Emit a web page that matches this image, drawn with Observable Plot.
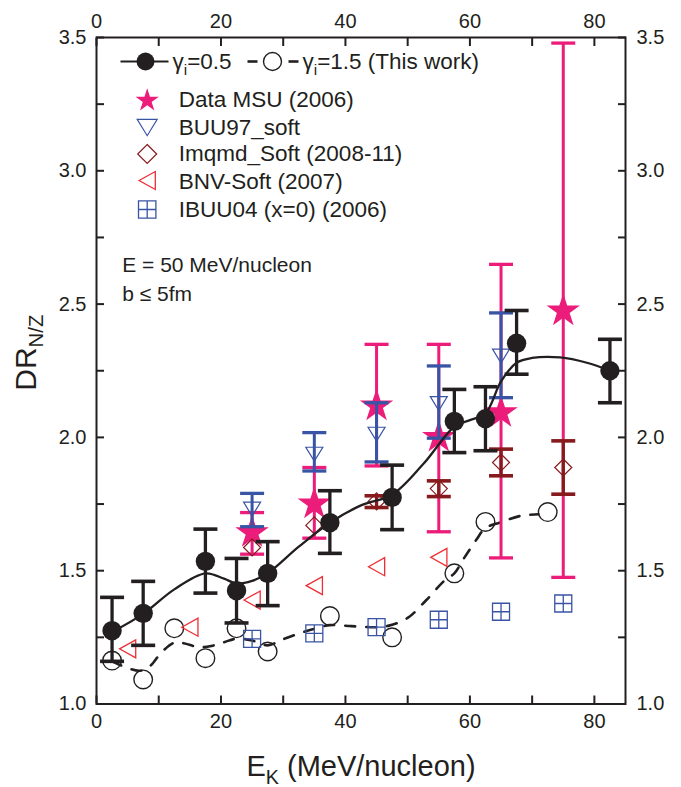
<!DOCTYPE html>
<html><head><meta charset="utf-8">
<script src="https://cdn.jsdelivr.net/npm/d3@7"></script>
<script src="https://cdn.jsdelivr.net/npm/@observablehq/plot@0.6"></script>
<style>html,body{margin:0;padding:0;background:#fff;}#chart{width:681px;height:787px;}</style>
</head><body><div id="chart"></div>
<script>
// ---------- data ----------
// This work, gamma_i = 0.5 (filled circles with error bars)
const ek_g05 = [2.5, 7.5, 17.5, 22.5, 27.5, 37.5, 47.5, 57.5, 62.5, 67.5, 82.5];
const dr_g05 = [1.275, 1.34, 1.535, 1.425, 1.49, 1.68, 1.775, 2.06, 2.07, 2.353, 2.25];
const dr_g05_hi = [1.40, 1.46, 1.656, 1.546, 1.609, 1.80, 1.896, 2.18, 2.19, 2.476, 2.368];
const dr_g05_lo = [1.16, 1.22, 1.416, 1.304, 1.369, 1.565, 1.654, 1.943, 1.95, 2.237, 2.13];
// smooth curve drawn through gamma_i = 0.5
const curve05_x = [2.5, 7.5, 12.5, 17.5, 20.5, 22.5, 25, 27.5, 32.5, 37.5, 42.5, 47.5, 52.5, 57.5, 60, 62.5, 65, 67.5, 70, 74.5, 78.8, 82.5];
const curve05_y = [1.27, 1.338, 1.43, 1.49, 1.47, 1.452, 1.462, 1.49, 1.59, 1.68, 1.745, 1.785, 1.9, 2.04, 2.065, 2.09, 2.21, 2.28, 2.298, 2.30, 2.28, 2.25];
// This work, gamma_i = 1.5 (open circles)
const ek_g15 = [2.5, 7.5, 12.5, 17.5, 22.5, 27.5, 37.5, 47.5, 57.5, 62.5, 72.5];
const dr_g15 = [1.163, 1.092, 1.284, 1.172, 1.284, 1.197, 1.33, 1.25, 1.49, 1.683, 1.72];
// dashed curve for gamma_i = 1.5
const curve15_x = [2.5, 5, 7, 8.5, 10.5, 12.5, 14, 16.5, 18.5, 20.5, 22.5, 25, 27.5, 30, 33, 35, 37.5, 41, 45, 47, 50, 53, 56, 57.5, 59, 61, 62.5, 65, 68, 71];
const curve15_y = [1.16, 1.135, 1.125, 1.14, 1.195, 1.23, 1.228, 1.213, 1.218, 1.232, 1.245, 1.238, 1.22, 1.243, 1.268, 1.282, 1.296, 1.292, 1.288, 1.294, 1.323, 1.39, 1.465, 1.49, 1.545, 1.615, 1.66, 1.682, 1.705, 1.712];
// Data MSU (2006)
const ek_msu = [25, 35, 45, 55, 65, 75];
const dr_msu = [1.643, 1.75, 2.118, 2.0, 2.093, 2.474];
const dr_msu_hi = [1.718, 1.887, 2.349, 2.349, 2.649, 3.479];
const dr_msu_lo = [1.562, 1.622, 1.893, 1.646, 1.548, 1.475];
// BUU97_soft
const ek_buu = [25, 35, 45, 55, 65];
const dr_buu = [1.731, 1.937, 2.012, 2.127, 2.305];
const dr_buu_hi = [1.79, 2.018, 2.13, 2.268, 2.467];
const dr_buu_lo = [1.665, 1.874, 1.908, 1.997, 2.149];
// Imqmd_Soft (2008-11)
const ek_imq = [25, 35, 45, 55, 65, 75];
const dr_imq = [1.587, 1.67, 1.76, 1.808, 1.906, 1.887];
const ek_imq_err = [45, 55, 65, 75];
const dr_imq_hi = [1.781, 1.837, 1.956, 1.987];
const dr_imq_lo = [1.737, 1.778, 1.856, 1.787];
// BNV-Soft (2007)
const ek_bnv = [5, 15, 25, 35, 45, 55];
const dr_bnv = [1.207, 1.288, 1.39, 1.444, 1.515, 1.55];
// IBUU04 (x=0) (2006)
const ek_ibuu = [25, 35, 45, 55, 65, 75];
const dr_ibuu = [1.244, 1.265, 1.288, 1.316, 1.346, 1.377];
// axes
const xTicks = [0, 10, 20, 30, 40, 50, 60, 70, 80];
const xTickLabels = ["0", "", "20", "", "40", "", "60", "", "80"];
const yTicks = [1.0, 1.25, 1.5, 1.75, 2.0, 2.25, 2.5, 2.75, 3.0, 3.25, 3.5];
const yTickLabels = ["1.0", "", "1.5", "", "2.0", "", "2.5", "", "3.0", "", "3.5"];
// texts
const legendNames = ["γ_{i}=0.5", "γ_{i}=1.5 (This work)", "Data MSU (2006)", "BUU97_soft", "Imqmd_Soft (2008-11)", "BNV-Soft (2007)", "IBUU04 (x=0) (2006)"];
const noteLines = ["E = 50 MeV/nucleon", "b ≤ 5fm"];
const xLabel = "E_{K} (MeV/nucleon)";
const yLabel = "DR_{N/Z}";

// ---------- tables ----------
const zip = (xs, ys, los, his) => xs.map((x, i) => ({x, y: ys ? ys[i] : null, lo: los ? los[i] : null, hi: his ? his[i] : null}));
const g05 = zip(ek_g05, dr_g05, dr_g05_lo, dr_g05_hi);
const g15 = zip(ek_g15, dr_g15);
const c05 = zip(curve05_x, curve05_y);
const c15 = zip(curve15_x, curve15_y);
const msu = zip(ek_msu, dr_msu, dr_msu_lo, dr_msu_hi);
const buu = zip(ek_buu, dr_buu, dr_buu_lo, dr_buu_hi);
const imq = zip(ek_imq, dr_imq);
const imqErr = zip(ek_imq_err, null, dr_imq_lo, dr_imq_hi);
const bnv = zip(ek_bnv, dr_bnv);
const ibuu = zip(ek_ibuu, dr_ibuu);

// ---------- colours & symbols ----------
const BLACK = "#231F20", MAG = "#EC1C7A", BLUE = "#3A54A5", DRED = "#861A1C", RED = "#EE2E34";
const sym = (fn) => ({draw(ctx, size) { const r = Math.sqrt(size / Math.PI); fn(ctx, r); }});
const downTri = sym((c, r) => { c.moveTo(-r, -0.82 * r); c.lineTo(r, -0.82 * r); c.lineTo(0, 0.82 * r); c.closePath(); });
const leftTri = sym((c, r) => { c.moveTo(-0.9 * r, 0); c.lineTo(0.9 * r, -r); c.lineTo(0.9 * r, r); c.closePath(); });
const diamond = sym((c, r) => { c.moveTo(0, -r); c.lineTo(r, 0); c.lineTo(0, r); c.lineTo(-r, 0); c.closePath(); });
const boxCross = sym((c, r) => { c.moveTo(-r, -r); c.lineTo(r, -r); c.lineTo(r, r); c.lineTo(-r, r); c.closePath(); c.moveTo(-r, 0); c.lineTo(r, 0); c.moveTo(0, -r); c.lineTo(0, r); });
const hline = sym((c, r) => { c.moveTo(-r, 0); c.lineTo(r, 0); });

const errMarks = (data, color, w) => [
  Plot.ruleX(data, {x: "x", y1: "lo", y2: "hi", stroke: color, strokeWidth: w}),
  Plot.dot(data, {x: "x", y: "hi", symbol: hline, r: 12, stroke: color, strokeWidth: w + 0.3, fill: "none"}),
  Plot.dot(data, {x: "x", y: "lo", symbol: hline, r: 12, stroke: color, strokeWidth: w + 0.3, fill: "none"})
];

// legend helpers (pixel offsets from the frame's top-left corner)
const L = (opts) => Plot.dot([0], {frameAnchor: "top-left", ...opts});
const T = (text, dx, dy, fs = 22.5) => Plot.text([text], {frameAnchor: "top-left", text: d => d, dx, dy, textAnchor: "start", lineAnchor: "bottom", fontSize: fs, fill: BLACK});

const chart = Plot.plot({
  width: 681, height: 787,
  marginLeft: 96, marginRight: 56, marginTop: 37, marginBottom: 83.5,
  x: {domain: [0, 85]},
  y: {domain: [1.0, 3.5]},
  style: {fontFamily: "'Liberation Sans', Arial, Helvetica, sans-serif", fontSize: "20px", color: BLACK, background: "#fff"},
  marks: [
    // gamma_i = 1.5
    Plot.line(c15, {x: "x", y: "y", curve: "catmull-rom", stroke: BLACK, strokeWidth: 2.6, strokeDasharray: "10,11"}),
    Plot.dot(g15, {x: "x", y: "y", r: 9.3, stroke: BLACK, strokeWidth: 1.4, fill: "none"}),
    // BNV and IBUU04
    Plot.dot(bnv, {x: "x", y: "y", symbol: leftTri, r: 9, stroke: RED, strokeWidth: 1.3, fill: "none"}),
    Plot.dot(ibuu, {x: "x", y: "y", symbol: boxCross, r: 8.5, stroke: BLUE, strokeWidth: 1.3, fill: "none"}),
    // MSU data
    ...errMarks(msu, MAG, 3),
    Plot.dot(msu, {x: "x", y: "y", symbol: "star", r: 10.5, fill: MAG, stroke: "none"}),
    // Imqmd
    ...errMarks(imqErr, DRED, 3.3),
    Plot.dot(imq, {x: "x", y: "y", symbol: diamond, r: 8.5, stroke: DRED, strokeWidth: 1.2, fill: "none"}),
    // BUU97
    ...errMarks(buu, BLUE, 3),
    Plot.dot(buu, {x: "x", y: "y", symbol: downTri, r: 8.5, stroke: BLUE, strokeWidth: 1.2, fill: "none"}),
    // gamma_i = 0.5
    Plot.line(c05, {x: "x", y: "y", curve: "catmull-rom", stroke: BLACK, strokeWidth: 2.3}),
    ...errMarks(g05, BLACK, 3.3),
    Plot.dot(g05, {x: "x", y: "y", r: 9.7, fill: BLACK, stroke: "none"}),
    // axes and frame
    Plot.axisX(xTicks, {anchor: "bottom", tickSize: -8, tickPadding: 18, strokeWidth: 2, tickFormat: (d, i) => xTickLabels[i], fontSize: 20, label: null}),
    Plot.axisX(xTicks, {anchor: "top", tickSize: -8, tickPadding: 18, strokeWidth: 2, tickFormat: (d, i) => xTickLabels[i], fontSize: 20, label: null}),
    Plot.axisY(yTicks, {anchor: "left", tickSize: -8, tickPadding: 18, strokeWidth: 2, tickFormat: (d, i) => yTickLabels[i], fontSize: 20, label: null}),
    Plot.axisY(yTicks, {anchor: "right", tickSize: -8, tickPadding: 19, strokeWidth: 2, tickFormat: (d, i) => yTickLabels[i], fontSize: 20, label: null}),
    Plot.frame({stroke: BLACK, strokeWidth: 2}),
    // legend row 1
    L({symbol: hline, r: 24, dx: 48, dy: 24, stroke: BLACK, strokeWidth: 2.2, fill: "none"}),
    L({r: 9, dx: 49, dy: 24, fill: BLACK, stroke: "none"}),
    T(legendNames[0], 76, 31.3),
    L({symbol: hline, r: 5, dx: 156, dy: 24, stroke: BLACK, strokeWidth: 2.6, fill: "none"}),
    L({r: 9, dx: 176, dy: 24, fill: "none", stroke: BLACK, strokeWidth: 1.4}),
    L({symbol: hline, r: 5, dx: 197, dy: 24, stroke: BLACK, strokeWidth: 2.6, fill: "none"}),
    T(legendNames[1], 206, 31.3),
    // legend rows 2-6
    L({symbol: "star", r: 7.3, dx: 50.7, dy: 63, fill: MAG, stroke: "none"}),
    T(legendNames[2], 82.3, 69),
    L({symbol: downTri, r: 10, dx: 50.7, dy: 90, stroke: BLUE, strokeWidth: 1.2, fill: "none"}),
    T(legendNames[3], 82.3, 97),
    L({symbol: diamond, r: 9.5, dx: 50.7, dy: 116.5, stroke: DRED, strokeWidth: 1.2, fill: "none"}),
    T(legendNames[4], 82.3, 123.7),
    L({symbol: leftTri, r: 9, dx: 50.7, dy: 143, stroke: RED, strokeWidth: 1.3, fill: "none"}),
    T(legendNames[5], 82.3, 151.3),
    L({symbol: boxCross, r: 8.7, dx: 50.7, dy: 172, stroke: BLUE, strokeWidth: 1.3, fill: "none"}),
    T(legendNames[6], 82.3, 179.7),
    // annotation
    T(noteLines[0], 25.7, 234.7, 21),
    T(noteLines[1], 25.7, 263, 21),
    // axis labels
    Plot.text([xLabel], {frameAnchor: "bottom", text: d => d, dy: 72, lineAnchor: "bottom", fontSize: 29, fill: BLACK}),
    Plot.text([yLabel], {frameAnchor: "left", text: d => d, dx: -61, dy: 20, rotate: -90, lineAnchor: "bottom", fontSize: 30, fill: BLACK})
  ]
});

document.getElementById("chart").appendChild(chart);

// turn _{...} into real subscripts
const NS = "http://www.w3.org/2000/svg";
chart.querySelectorAll("text").forEach(t => {
  const s = t.textContent;
  if (!s.includes("_{")) return;
  const fs = parseFloat(getComputedStyle(t).fontSize) || 20;
  const parts = s.split(/(_\{[^}]*\})/);
  while (t.firstChild) t.removeChild(t.firstChild);
  let shifted = false;
  const sh = fs * 0.26;
  for (const p of parts) {
    if (!p) continue;
    const ts = document.createElementNS(NS, "tspan");
    if (p.startsWith("_{")) {
      ts.textContent = p.slice(2, -1);
      ts.setAttribute("font-size", (fs * 0.68).toFixed(1));
      ts.setAttribute("dy", sh.toFixed(1));
      shifted = true;
    } else {
      ts.textContent = p;
      if (shifted) { ts.setAttribute("dy", (-sh).toFixed(1)); shifted = false; }
    }
    t.appendChild(ts);
  }
});
</script></body></html>
